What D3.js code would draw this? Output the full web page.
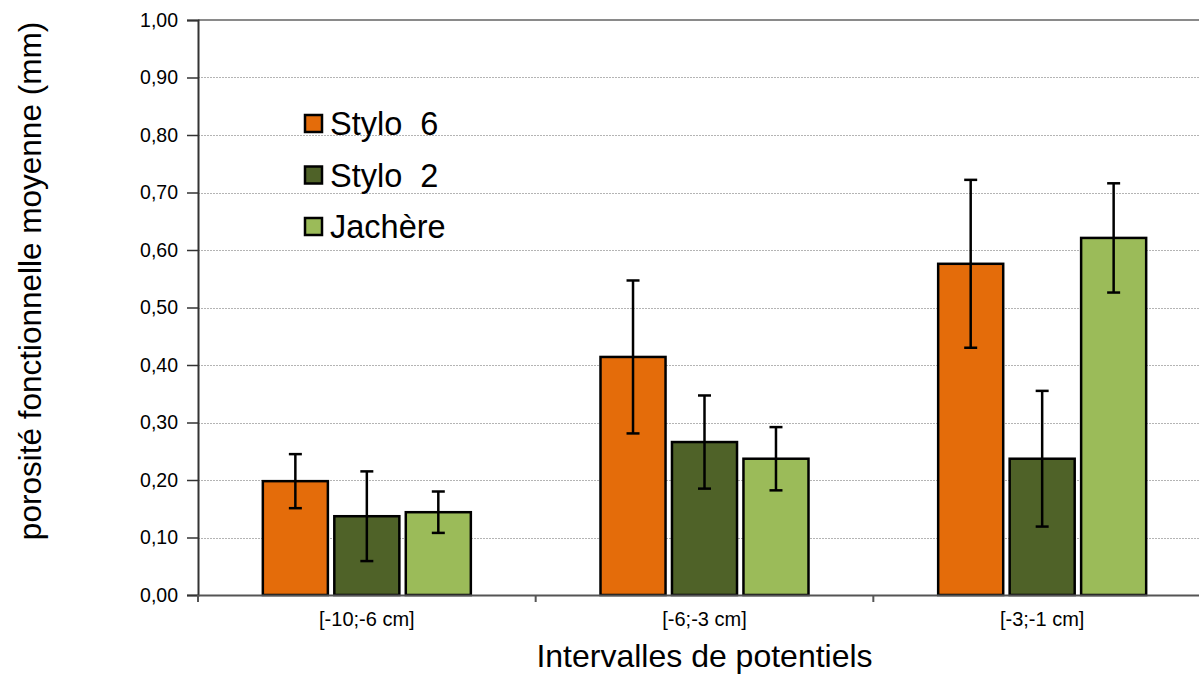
<!DOCTYPE html>
<html>
<head>
<meta charset="utf-8">
<script src="https://cdn.jsdelivr.net/npm/d3@7"></script>
<style>
  body { margin: 0; background: #fff; }
  svg { display: block; font-family: "Liberation Sans", Arial, sans-serif; }
</style>
</head>
<body>
<div id="chart"></div>
<script>
// data
var categories = ['[-10;-6 cm]', '[-6;-3 cm]', '[-3;-1 cm]'];
var seriesNames = ['Stylo  6', 'Stylo  2', 'Jachère'];
var seriesColors = ['#E46C0A', '#4F6228', '#9BBB59'];
var stylo6 = [0.198, 0.414, 0.576];
var stylo6Err = [0.047, 0.133, 0.146];
var stylo2 = [0.137, 0.266, 0.237];
var stylo2Err = [0.078, 0.081, 0.118];
var jachere = [0.144, 0.237, 0.621];
var jachereErr = [0.036, 0.055, 0.095];
var yTicks = [0, 0.1, 0.2, 0.3, 0.4, 0.5, 0.6, 0.7, 0.8, 0.9, 1.0];

var seriesValues = [stylo6, stylo2, jachere];
var seriesErrors = [stylo6Err, stylo2Err, jachereErr];

var width = 1199, height = 677;
var margin = { top: 20, left: 198, bottom: 82 };
var plotRight = 1211; // chart is cut on the right side

var svg = d3.select('#chart').append('svg')
  .attr('width', width)
  .attr('height', height);

var x = d3.scaleBand()
  .domain(categories)
  .range([margin.left, plotRight])
  .paddingInner(0)
  .paddingOuter(0);

var y = d3.scaleLinear()
  .domain([0, 1])
  .range([height - margin.bottom, margin.top]);

var xInner = d3.scaleBand()
  .domain(seriesNames)
  .range([0, 3 * 65 + 2 * 6.5])
  .paddingInner(0.09);

// grid
svg.append('g')
  .selectAll('line')
  .data(yTicks.slice(1, -1))
  .enter().append('line')
  .attr('x1', margin.left)
  .attr('x2', plotRight)
  .attr('y1', function(d){ return Math.round(y(d)) + 0.5; })
  .attr('y2', function(d){ return Math.round(y(d)) + 0.5; })
  .attr('stroke', '#b4b4b4')
  .attr('stroke-width', 1)
  .attr('stroke-dasharray', '2,1');

// top border
svg.append('line')
  .attr('x1', margin.left).attr('x2', plotRight)
  .attr('y1', y(1)).attr('y2', y(1))
  .attr('stroke', '#8a8a8a')
  .attr('stroke-width', 2);

// bars
var groupWidth = xInner.range()[1];
var groups = svg.append('g').selectAll('g')
  .data(seriesNames)
  .enter().append('g');

groups.each(function(name, si){
  var g = d3.select(this);
  categories.forEach(function(cat, ci){
    var v = seriesValues[si][ci];
    var e = seriesErrors[si][ci];
    var bx = x(cat) + x.bandwidth()/2 - groupWidth/2 + xInner(name);
    var bw = xInner.bandwidth();
    g.append('rect')
      .attr('x', bx)
      .attr('y', y(v))
      .attr('width', bw)
      .attr('height', y(0) - y(v))
      .attr('fill', seriesColors[si])
      .attr('stroke', '#000')
      .attr('stroke-width', 2.5);

    // error bar
    var cx = bx + bw/2;
    g.append('line')
      .attr('x1', cx).attr('x2', cx)
      .attr('y1', y(v + e)).attr('y2', y(v - e))
      .attr('stroke', '#000').attr('stroke-width', 2.5);
    [v + e, v - e].forEach(function(t){
      g.append('line')
        .attr('x1', cx - 6.5).attr('x2', cx + 6.5)
        .attr('y1', y(t)).attr('y2', y(t))
        .attr('stroke', '#000').attr('stroke-width', 2.5);
    });
  });
});

// y axis
var yAxis = d3.axisLeft(y)
  .tickValues(yTicks)
  .tickSize(11)
  .tickPadding(9)
  .tickFormat(function(d){ return d3.format('.2f')(d).replace('.', ','); });

var yg = svg.append('g')
  .attr('transform', 'translate(' + margin.left + ',0)')
  .call(yAxis);
yg.select('.domain').attr('stroke', '#333').attr('stroke-width', 2);
yg.selectAll('.tick line').attr('stroke', '#333').attr('stroke-width', 1.5);
yg.selectAll('.tick text')
  .attr('font-size', 19.5)
  .attr('fill', '#000')
  .attr('font-family', '"Liberation Sans", Arial, sans-serif');

// x axis
var xAxis = d3.axisBottom(x).tickSize(0).tickPadding(17);
var xg = svg.append('g')
  .attr('transform', 'translate(0,' + y(0) + ')')
  .call(xAxis);
xg.select('.domain').attr('stroke', '#555').attr('stroke-width', 2);
xg.selectAll('.tick text')
  .attr('font-size', 20)
  .attr('fill', '#000')
  .attr('font-family', '"Liberation Sans", Arial, sans-serif');

// category boundary ticks
xg.append('g').selectAll('line')
  .data(categories)
  .enter().append('line')
  .attr('x1', function(d){ return x(d); })
  .attr('x2', function(d){ return x(d); })
  .attr('y1', 0).attr('y2', 7)
  .attr('stroke', '#555').attr('stroke-width', 2);

// axis titles
svg.append('text')
  .attr('x', x(categories[1]) + x.bandwidth()/2)
  .attr('y', 667)
  .attr('text-anchor', 'middle')
  .attr('font-size', 32)
  .text('Intervalles de potentiels');

svg.append('text')
  .attr('transform', 'translate(41,' + 281 + ') rotate(-90)')
  .attr('text-anchor', 'middle')
  .attr('font-size', 31.5)
  .text('porosité fonctionnelle moyenne (mm)');

// legend
var legend = svg.append('g').attr('transform', 'translate(305,115)');
seriesNames.forEach(function(name, i){
  var lg = legend.append('g').attr('transform', 'translate(0,' + (i * 51.5) + ')');
  lg.append('rect')
    .attr('width', 17).attr('height', 17)
    .attr('fill', seriesColors[i])
    .attr('stroke', '#000').attr('stroke-width', 2.5);
  lg.append('text')
    .attr('x', 25).attr('y', 20)
    .attr('font-size', 32.5)
    .attr('xml:space', 'preserve')
    .style('white-space', 'pre')
    .text(name);
});
</script>
</body>
</html>
